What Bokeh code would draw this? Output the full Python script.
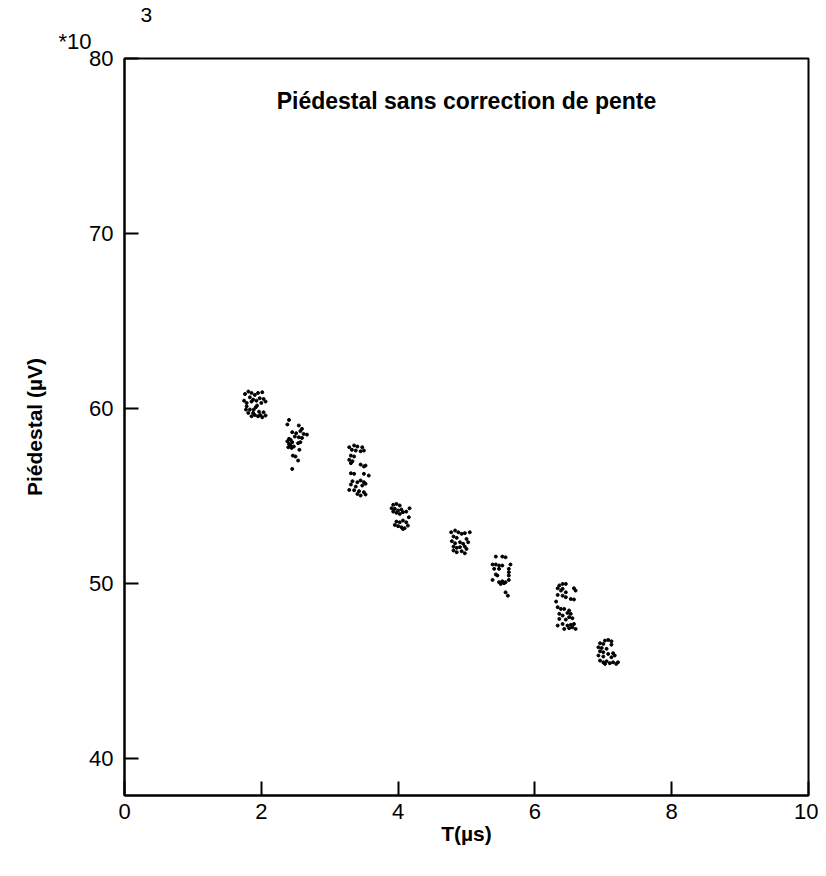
from bokeh.plotting import figure
from bokeh.models import Range1d, FixedTicker, Label, ColumnDataSource, Title
from bokeh.embed import file_html
from bokeh.resources import INLINE

# Measurements: T (µs) and pedestal (x10^3 µV), grouped by delay setting
t_c1 = [1.762, 1.810, 1.857, 1.905, 1.952, 2.014, 1.833, 1.881, 1.976, 2.033, 1.748, 1.786, 1.857, 1.929, 2.000, 2.062,
        1.786, 1.833, 1.890, 1.919, 1.938, 1.967, 1.986, 2.033, 1.810, 1.857, 1.905, 1.952, 2.014, 2.062, 1.776, 1.881]
p_c1 = [60.83, 60.97, 60.89, 60.78, 60.89, 60.93, 60.64, 60.51, 60.59, 60.55, 60.45, 60.32, 60.40, 60.45, 60.32, 60.40,
        60.13, 59.94, 59.94, 60.07, 60.17, 59.82, 59.63, 59.79, 59.75, 59.56, 59.63, 59.56, 59.50, 59.60, 59.94, 59.75]

t_c2 = [2.405, 2.381, 2.548, 2.595, 2.571, 2.452, 2.510, 2.619, 2.667, 2.490, 2.548, 2.595, 2.405, 2.429, 2.381, 2.452,
        2.538, 2.571, 2.405, 2.429, 2.476, 2.395, 2.443, 2.557, 2.462, 2.500, 2.538, 2.452]
p_c2 = [59.35, 59.09, 59.03, 58.84, 58.71, 58.65, 58.59, 58.55, 58.51, 58.40, 58.36, 58.32, 58.27, 58.21, 58.13, 58.08,
        58.02, 58.08, 57.98, 57.89, 57.83, 57.79, 57.75, 57.64, 57.31, 57.26, 57.03, 56.55]

t_c3 = [3.286, 3.357, 3.405, 3.476, 3.324, 3.381, 3.452, 3.500, 3.310, 3.357, 3.286, 3.333, 3.310, 3.452, 3.500, 3.524,
        3.310, 3.357, 3.500, 3.571, 3.333, 3.405, 3.452, 3.500, 3.310, 3.381, 3.476, 3.524, 3.286, 3.357, 3.429, 3.500,
        3.405, 3.452, 3.524]
p_c3 = [57.79, 57.89, 57.83, 57.79, 57.64, 57.60, 57.56, 57.60, 57.31, 57.26, 57.07, 56.99, 56.88, 56.80, 56.69, 56.74,
        56.30, 56.27, 56.27, 56.17, 55.85, 55.79, 55.89, 55.79, 55.66, 55.54, 55.60, 55.70, 55.35, 55.33, 55.28, 55.22,
        55.12, 55.03, 55.09]

t_c4 = [3.929, 3.976, 4.024, 3.905, 3.952, 4.000, 4.048, 4.167, 3.929, 3.976, 4.024, 4.071, 4.119, 4.157, 3.976, 4.024,
        4.071, 4.119, 3.952, 4.000, 4.048, 4.095, 4.143, 4.071]
p_c4 = [54.50, 54.55, 54.46, 54.30, 54.27, 54.17, 54.23, 54.30, 54.11, 54.04, 53.98, 54.08, 54.11, 53.79, 53.54, 53.50,
        53.60, 53.50, 53.35, 53.28, 53.22, 53.16, 53.31, 53.12]

t_c5 = [4.776, 4.833, 4.881, 4.929, 4.976, 5.048, 4.810, 4.857, 5.000, 4.786, 4.833, 4.905, 4.952, 5.024, 4.810, 4.857,
        4.905, 4.976, 4.810, 4.857, 4.929, 4.976, 5.000]
p_c5 = [52.93, 53.03, 52.93, 52.84, 52.88, 52.93, 52.69, 52.61, 52.55, 52.42, 52.30, 52.36, 52.27, 52.36, 52.11, 52.04,
        52.08, 52.11, 51.89, 51.79, 51.85, 51.73, 51.98]

t_c6 = [5.429, 5.524, 5.571, 5.381, 5.429, 5.476, 5.524, 5.643, 5.405, 5.476, 5.619, 5.619, 5.429, 5.452, 5.619, 5.381,
        5.476, 5.524, 5.571, 5.619, 5.500, 5.548, 5.571, 5.605]
p_c6 = [51.54, 51.54, 51.50, 51.09, 51.09, 51.03, 51.03, 51.09, 50.84, 50.84, 50.84, 50.65, 50.52, 50.46, 50.46, 50.21,
        50.08, 50.13, 50.08, 50.21, 49.98, 50.02, 49.50, 49.31]

t_c7 = [6.357, 6.405, 6.452, 6.333, 6.405, 6.571, 6.381, 6.452, 6.595, 6.333, 6.405, 6.452, 6.524, 6.571, 6.310, 6.333,
        6.381, 6.429, 6.500, 6.357, 6.405, 6.476, 6.524, 6.357, 6.452, 6.500, 6.548, 6.333, 6.405, 6.476, 6.524, 6.571,
        6.429, 6.500, 6.548, 6.595]
p_c7 = [49.89, 49.98, 49.98, 49.73, 49.70, 49.73, 49.60, 49.50, 49.60, 49.35, 49.31, 49.22, 49.12, 49.09, 48.97, 48.65,
        48.55, 48.55, 48.46, 48.27, 48.17, 48.32, 48.27, 47.98, 47.94, 48.08, 48.02, 47.60, 47.69, 47.60, 47.64, 47.69,
        47.41, 47.45, 47.50, 47.41]

t_c8 = [7.024, 7.071, 7.119, 6.952, 7.000, 7.119, 6.929, 6.976, 7.048, 6.952, 7.000, 7.071, 7.143, 6.929, 7.000, 7.119,
        7.167, 6.952, 7.000, 7.048, 7.095, 7.143, 7.190, 7.024, 7.214]
p_c8 = [46.74, 46.78, 46.70, 46.59, 46.55, 46.51, 46.36, 46.32, 46.27, 46.13, 46.08, 45.98, 46.02, 45.89, 45.83, 45.79,
        45.89, 45.60, 45.50, 45.56, 45.45, 45.50, 45.41, 45.41, 45.50]

x_ticks = [0, 2, 4, 6, 8, 10]
y_ticks = [40, 50, 60, 70, 80]

title_text = "Piédestal sans correction de pente"
x_label = "T(µs)"
y_label = "Piédestal (µV)"
scale_text = "*10"
exponent_text = "3"

T = t_c1 + t_c2 + t_c3 + t_c4 + t_c5 + t_c6 + t_c7 + t_c8
P = p_c1 + p_c2 + p_c3 + p_c4 + p_c5 + p_c6 + p_c7 + p_c8
src = ColumnDataSource(dict(t=T, p=P))

FONT = "Liberation Sans"

p = figure(width=818, height=868, output_backend="svg", toolbar_location=None,
           x_range=Range1d(0, 10), y_range=Range1d(37.89, 80),
           min_border_left=124, min_border_right=10, min_border_top=58, min_border_bottom=73)
p.background_fill_color = "white"
p.border_fill_color = "white"
p.grid.visible = False
p.outline_line_color = "black"
p.outline_line_width = 2

# exponent (outer line) and scale factor (inner line) above the y axis
p.title.text = exponent_text
p.title.align = "left"
p.title.offset = 16
p.title.standoff = 0
p.title.vertical_align = "bottom"
p.title.text_line_height = 1.8
p.title.text_font = FONT
p.title.text_font_size = "21px"
p.title.text_font_style = "normal"
p.title.text_color = "black"
p.add_layout(Title(text=scale_text, align="left", offset=-66, standoff=10, text_font=FONT,
                   text_font_size="22px", text_font_style="normal", text_color="black"), "above")

p.scatter("t", "p", source=src, size=3, color="black", marker="circle")

for ax in (p.xaxis[0], p.yaxis[0]):
    ax.axis_line_color = "black"
    ax.axis_line_width = 2
    ax.major_tick_in = 14
    ax.major_tick_out = 0
    ax.major_tick_line_width = 2
    ax.minor_tick_line_color = None
    ax.major_label_text_font = FONT
    ax.major_label_text_font_size = "22px"
    ax.major_label_text_color = "black"
    ax.axis_label_text_font = FONT
    ax.axis_label_text_font_style = "bold"
    ax.axis_label_text_color = "black"

p.xaxis.ticker = FixedTicker(ticks=x_ticks)
p.yaxis.ticker = FixedTicker(ticks=y_ticks)
p.xaxis.major_label_standoff = 8
p.yaxis.major_label_standoff = 11
p.xaxis.axis_label = x_label
p.yaxis.axis_label = y_label
p.xaxis.axis_label_text_font_size = "21px"
p.yaxis.axis_label_text_font_size = "21px"
p.xaxis.axis_label_standoff = 0
p.yaxis.axis_label_standoff = 40

p.add_layout(Label(x=5.0, y=77.6, text=title_text, text_align="center", text_baseline="middle",
                   text_font=FONT, text_font_style="bold", text_font_size="23px", text_color="black"))

open("out.html", "w").write(file_html(p, INLINE))
